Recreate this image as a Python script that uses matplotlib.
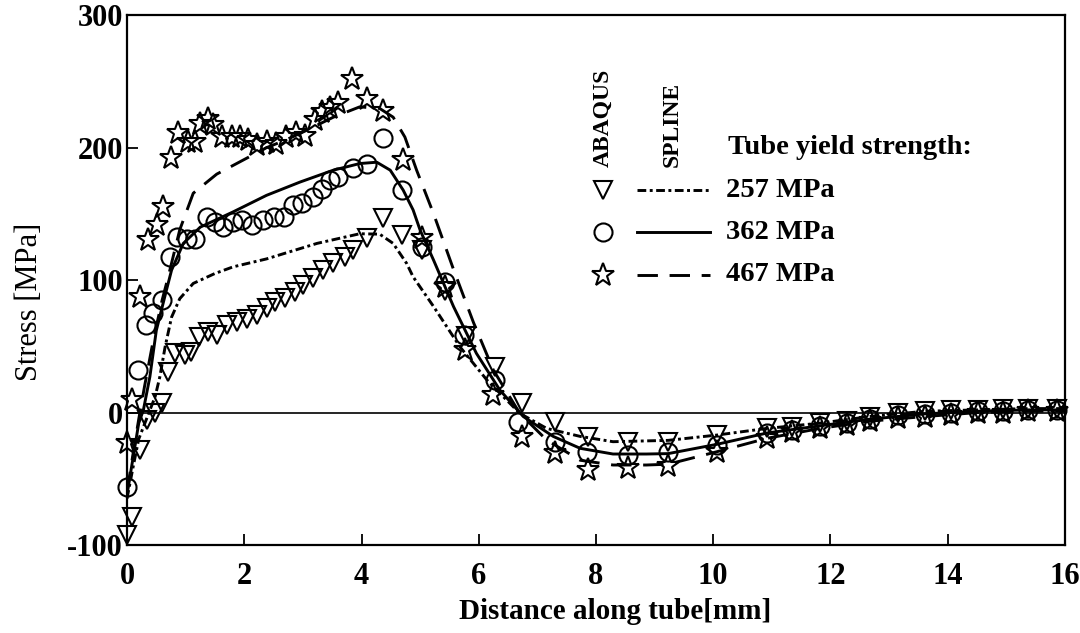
import matplotlib
matplotlib.use('Agg')
import matplotlib.pyplot as plt
from matplotlib.lines import Line2D

plt.rcParams['font.family'] = ['Liberation Serif', 'DejaVu Serif']
plt.rcParams['font.weight'] = 'bold'
plt.rcParams['axes.unicode_minus'] = False

# ABAQUS results (markers)
x_257 = [0.0, 0.08, 0.22, 0.34, 0.48, 0.59, 0.70, 0.82, 0.99, 1.10, 1.22, 1.39, 1.53,
         1.70, 1.87, 2.04, 2.21, 2.38, 2.52, 2.69, 2.87, 3.01, 3.18, 3.35, 3.52, 3.72,
         3.86, 4.09, 4.37, 4.69, 5.03, 5.42, 5.78, 6.28, 6.73, 7.30, 7.87, 8.55, 9.23,
         10.06, 10.91, 11.34, 11.82, 12.28, 12.67, 13.15, 13.61, 14.06, 14.51, 14.94,
         15.37, 15.86]
y_257 = [-92.5, -78.6, -28, -5.7, -0.6, 7, 30.8, 44.7, 43.4, 45.9, 57.2, 61, 58.5,
         66, 68.5, 71, 73.6, 78.6, 83.6, 86.2, 91.2, 96.2, 101.3, 107.5, 112.6, 117.6,
         122.6, 131.7, 146.6, 134, 122.6, 92, 58, 34.6, 7, -7, -18.2, -22, -22,
         -17, -12, -11, -8, -6.5, -3, -0.5, 1, 2, 2, 3,
         3, 3]

x_362 = [0.0, 0.19, 0.33, 0.45, 0.59, 0.73, 0.86, 1.03, 1.16, 1.36, 1.50, 1.64, 1.81,
         1.96, 2.13, 2.32, 2.50, 2.67, 2.84, 2.98, 3.18, 3.32, 3.46, 3.60, 3.86, 4.09,
         4.37, 4.69, 5.03, 5.42, 5.74, 6.28, 6.67, 7.30, 7.84, 8.55, 9.23, 10.06, 10.91,
         11.34, 11.82, 12.28, 12.67, 13.15, 13.61, 14.06, 14.51, 14.94, 15.37, 15.86]
y_362 = [-56, 32, 66, 75, 85, 117.6, 132.7, 130.7, 130.7, 147.8, 144, 140, 144,
         145, 141.5, 145, 147.8, 147.8, 156.6, 157.9, 163, 169, 175.5, 178, 184.3, 188,
         207, 168, 125, 98.7, 58.5, 24.5, -7, -22, -29.6, -32, -29.6, -24.5, -15.5,
         -13, -10, -8, -5, -2, -1, 0, 1, 1.5, 2, 2]

x_467 = [0.0, 0.08, 0.22, 0.36, 0.51, 0.62, 0.75, 0.87, 1.04, 1.16, 1.25, 1.38, 1.47,
         1.62, 1.79, 1.93, 2.06, 2.21, 2.38, 2.55, 2.72, 2.89, 3.04, 3.20, 3.33, 3.46,
         3.60, 3.84, 4.09, 4.37, 4.71, 5.03, 5.42, 5.76, 6.25, 6.73, 7.30, 7.87, 8.55,
         9.23, 10.06, 10.91, 11.34, 11.82, 12.28, 12.67, 13.15, 13.61, 14.06, 14.51,
         14.94, 15.37, 15.86]
y_467 = [-23, 9.4, 87.4, 130, 141.5, 155, 192, 211, 204, 204, 218, 222, 217,
         208, 208, 208, 206, 202, 204, 203, 208, 211, 209, 221, 227, 230,
         234, 252, 237, 228, 191, 131.5, 95, 47, 13.2, -18.2, -30.8, -43.4, -42,
         -40, -29.6, -19.5, -15, -12, -9.5, -6.5, -4, -3, -1.5, 0,
         0, 1, 1]

# SPLINE results (lines)
sx_257 = [0.0, 0.1, 0.2, 0.34, 0.48, 0.56, 0.65, 0.76, 0.90, 1.13, 1.5, 1.81, 2.38,
          3.24, 3.97, 4.31, 4.54, 4.77, 4.88, 5.23, 5.68, 6.14, 6.70, 7.16, 7.73,
          8.29, 9.23, 10.06, 10.91, 11.82, 12.67, 13.61, 14.51, 15.37, 16.0]
sy_257 = [-65, -42, -20, -4, 12, 27, 49.6, 72, 86, 97.5, 105, 110, 116,
          127.7, 135, 134.7, 127.7, 112.6, 102.5, 80, 49.6, 24.5, -0.6, -12, -18,
          -22, -21, -17, -12, -8, -3, 1, 2, 3, 3]

sx_362 = [0.0, 0.1, 0.2, 0.28, 0.39, 0.5, 0.67, 0.76, 0.96, 1.25, 1.81, 2.38, 2.95,
          3.52, 3.97, 4.26, 4.49, 4.71, 4.88, 5.0, 5.23, 5.57, 5.96, 6.36, 6.76,
          7.27, 7.73, 8.29, 8.86, 9.23, 10.06, 10.91, 11.82, 12.67, 13.61, 14.51,
          15.37, 16.0]
sy_362 = [-62, -35, -8, 2, 27, 62, 92, 107.5, 127.7, 140, 151.5, 164, 174,
          183, 188, 189, 183, 168, 153, 137.7, 115, 80, 44.7, 17, -3,
          -18, -27, -31.3, -31.3, -31, -24, -15.5, -10, -5, -1, 1,
          2, 2]

sx_467 = [0.0, 0.1, 0.2, 0.3, 0.45, 0.6, 0.70, 0.90, 1.13, 1.53, 2.04, 2.38, 2.72,
          3.06, 3.52, 3.97, 4.31, 4.54, 4.74, 4.94, 5.23, 5.57, 5.91, 6.25, 6.70,
          7.16, 7.73, 8.29, 8.86, 9.23, 10.06, 10.91, 11.82, 12.67, 13.61, 14.51,
          15.37, 16.0]
sy_467 = [-60, -32, -5, 20, 55, 85, 102, 138, 165.6, 180, 192, 200, 206,
          213, 223, 230.8, 229.6, 223, 208, 183, 150, 108, 68, 32, -0.6,
          -20.8, -36, -39.6, -39.6, -39, -29.6, -19.5, -12, -6.5, -3, 0,
          1, 1]

labels = ['257 MPa', '362 MPa', '467 MPa']
markers = ['v', 'o', '*']
msizes = [13, 13, 17]
styles = [(0, (3, 1.2, 1, 1.2)), '-', (0, (7, 4))]

fig = plt.figure(figsize=(10.8, 6.33), dpi=100)
ax = fig.add_axes([0.1176, 0.139, 0.8685, 0.837])

ax.axhline(0, color='black', lw=1.2)

series = [(x_257, y_257, sx_257, sy_257), (x_362, y_362, sx_362, sy_362),
          (x_467, y_467, sx_467, sy_467)]
for (mx, my, lx, ly), m, ms, ls in zip(series, markers, msizes, styles):
    ax.plot(lx, ly, color='black', lw=2.1, linestyle=ls)
    ax.plot(mx, my, linestyle='none', marker=m, ms=ms, mfc='none',
            mec='black', mew=1.5, clip_on=False)

ax.set_xlim(0, 16)
ax.set_ylim(-100, 300)
ax.set_xticks(range(0, 17, 2))
ax.set_yticks([-100, 0, 100, 200, 300])
ax.tick_params(direction='in', length=8, width=1.3, labelsize=22)
ax.tick_params(axis='x', pad=12)
ax.tick_params(axis='y', pad=3)
for s in ax.spines.values():
    s.set_linewidth(1.6)

ax.set_xlabel('Distance along tube[mm]', fontsize=21, fontweight='bold')
ax.set_ylabel('Stress [MPa]', fontsize=22, fontweight='normal')
ax.xaxis.set_label_coords(0.52, -0.1)
ax.yaxis.set_label_coords(-0.088, 0.458)

# legend drawn by hand: marker column, line column, label
ax.text(0.5075, 0.713, 'ABAQUS', rotation=90, ha='center', va='bottom',
        fontsize=17, transform=ax.transAxes)
ax.text(0.581, 0.713, 'SPLINE', rotation=90, ha='center', va='bottom',
        fontsize=17, transform=ax.transAxes)
ax.text(0.641, 0.75, 'Tube yield strength:', ha='left', va='center',
        fontsize=20.5, transform=ax.transAxes)
rows = [0.67, 0.59, 0.51]
for fy, m, ms, ls, lab in zip(rows, markers, msizes, styles, labels):
    ax.add_line(Line2D([0.5075], [fy], marker=m, ms=ms, mfc='none', mec='black',
                       mew=1.5, linestyle='none', transform=ax.transAxes))
    ax.add_line(Line2D([0.544, 0.6215], [fy, fy], color='black', lw=2.1,
                       linestyle=ls, transform=ax.transAxes))
    ax.text(0.639, fy, lab, ha='left', va='center', fontsize=20.5,
            transform=ax.transAxes)

fig.savefig('out.png', dpi=100)
